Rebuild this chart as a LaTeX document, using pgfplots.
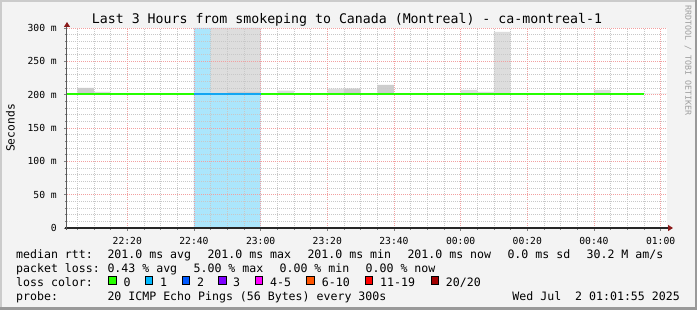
\documentclass[border=0pt]{standalone}
\usepackage{pgfplots}
\pgfplotsset{compat=1.18}
\usepackage{fontspec}
\setmainfont{DejaVu Sans Mono}
\usetikzlibrary{arrows.meta}

\definecolor{canvas}{HTML}{F3F3F3}
\definecolor{shadea}{HTML}{CBCBCB}
\definecolor{shadeb}{HTML}{999999}
\definecolor{mgridc}{HTML}{F2A0A0}
\definecolor{gridc}{HTML}{C8C8C8}
\definecolor{arrowred}{HTML}{8B1A1A}
\definecolor{smokelight}{HTML}{DDDDDD}
\definecolor{smokemid}{HTML}{CDCDCD}
\definecolor{lossbg}{HTML}{ABE6FC}
\definecolor{lossa}{HTML}{26FF00}
\definecolor{lossb}{HTML}{00B8FF}
\definecolor{lossc}{HTML}{0059FF}
\definecolor{lossd}{HTML}{7E00FF}
\definecolor{losse}{HTML}{FF00FF}
\definecolor{lossf}{HTML}{FF5500}
\definecolor{lossg}{HTML}{FF0000}
\definecolor{lossh}{HTML}{A10000}
\definecolor{medblue}{HTML}{12A6F2}

\newcommand\lgd{\fontsize{11.58}{13}\selectfont}
\newcommand\tck{\fontsize{9.7}{10}\selectfont}

\pgfplotsset{frame/.style={
  at={(67pt,82pt)}, anchor=south west,
  scale only axis, width=600pt, height=200pt,
  xmin=1.917, xmax=181.917, ymin=0, ymax=300}}

\begin{document}
\begin{tikzpicture}
\fill[canvas] (0,0) rectangle (697pt,310pt);
\fill[shadea] (0,0) rectangle (2pt,310pt);
\fill[shadea] (0,308pt) rectangle (697pt,310pt);
\fill[shadeb] (0,0) rectangle (697pt,3pt);
\fill[shadeb] (695pt,0) rectangle (697pt,310pt);

\begin{axis}[
  frame, axis on top,
  axis background/.style={fill=white},
  axis x line=bottom, axis y line=left,
  x axis line style={black!85, line width=1.1pt, shorten <=-2pt, shorten >=-6pt,
    -{Triangle[width=6pt,length=5pt,color=arrowred]}},
  y axis line style={black!65, line width=1pt, shorten <=-2pt, shorten >=-6pt,
    -{Triangle[width=6pt,length=5pt,color=arrowred]}},
  xtick={20,40,...,180},
  xticklabels={22:20,22:40,23:00,23:20,23:40,00:00,00:20,00:40,01:00},
  minor xtick={5,10,...,180},
  ytick={0,50,...,300},
  yticklabels={0,50 m,100 m,150 m,200 m,250 m,300 m},
  minor ytick={10,20,...,290},
  grid=both,
  major grid style={mgridc, line width=0.8pt, dash pattern=on 1pt off 1pt},
  minor grid style={gridc, line width=0.8pt, dash pattern=on 1pt off 1pt},
  tick align=outside,
  major tick length=3pt, minor tick length=2pt,
  tick style={black!50, line width=0.8pt},
  xticklabel style={font=\tck, anchor=base, inner sep=0pt, yshift=-13.7pt},
  yticklabel style={font=\tck, anchor=east, inner sep=0pt, xshift=-7pt},
]
% loss background (1 of 20 lost)
\addplot[const plot, fill=lossbg, draw=none] coordinates {(40,300) (60,300)} \closedcycle;
% smoke, outer layer
\addplot[const plot, fill=smokelight, draw=none] coordinates {
  (1.917,201) (10,204) (15,201) (45,300) (60,201) (65,206) (70,201)
  (80,209) (90,201) (120,207) (125,204) (130,294) (135,201)
  (160,207) (165,201) (181.917,201)};
% smoke, inner layer
\addplot[const plot, fill=smokemid, draw=none] coordinates {
  (1.917,201) (5,210) (10,201) (50,204) (60,201) (85,209) (90,201)
  (95,214.5) (100,201) (181.917,201)};
\end{axis}

% median rtt by loss, drawn above the grid
\begin{axis}[frame, hide axis]
\addplot[lossa, line width=2pt] coordinates {(1.917,201) (40,201)};
\addplot[medblue, line width=2pt] coordinates {(40,201) (60,201)};
\addplot[lossa, line width=2pt] coordinates {(60,201) (175,201)};
\end{axis}

\node[anchor=base, inner sep=0pt, font=\fontsize{13.24}{15}\selectfont]
  at (347pt,286pt) {Last 3 Hours from smokeping to Canada (Montreal) - ca-montreal-1};
\node[rotate=90, inner sep=0pt, font=\fontsize{11.3}{12}\selectfont] at (10.5pt,182pt) {Seconds};
\node[rotate=-90, anchor=west, inner sep=0pt, text=black!38, font=\fontsize{8.3}{9}\selectfont]
  at (688pt,305pt) {RRDTOOL / TOBI OETIKER};

\begin{scope}[every node/.style={anchor=base west, inner sep=0pt, font=\lgd}]
\node at (16pt,51.7pt) {median rtt:};
\node at (107.3pt,51.7pt) {201.0 ms avg};
\node at (207.3pt,51.7pt) {201.0 ms max};
\node at (307.3pt,51.7pt) {201.0 ms min};
\node at (407.3pt,51.7pt) {201.0 ms now};
\node at (507.3pt,51.7pt) {0.0 ms sd};
\node at (586.4pt,51.7pt) {30.2 M am/s};

\node at (16pt,37.5pt) {packet loss:};
\node at (107.3pt,37.5pt) {0.43 \% avg};
\node at (193.4pt,37.5pt) {5.00 \% max};
\node at (279.4pt,37.5pt) {0.00 \% min};
\node at (365.5pt,37.5pt) {0.00 \% now};

\node at (16pt,23.7pt) {loss color:};
\node at (123.3pt,23.7pt) {0};
\node at (160pt,23.7pt) {1};
\node at (197pt,23.7pt) {2};
\node at (233pt,23.7pt) {3};
\node at (270pt,23.7pt) {4-5};
\node at (321.7pt,23.7pt) {6-10};
\node at (380pt,23.7pt) {11-19};
\node at (445.7pt,23.7pt) {20/20};

\node at (16pt,9.3pt) {probe:};
\node at (107.3pt,9.3pt) {20 ICMP Echo Pings (56 Bytes) every 300s};
\node[anchor=base east] at (680pt,9.3pt) {Wed Jul~~2 01:01:55 2025};
\end{scope}

\begin{scope}[line width=0.8pt, draw=black]
\filldraw[fill=lossa] (108.3pt,25.8pt) rectangle ++(7.6pt,7.6pt);
\filldraw[fill=lossb] (145pt,25.8pt) rectangle ++(7.6pt,7.6pt);
\filldraw[fill=lossc] (182pt,25.8pt) rectangle ++(7.6pt,7.6pt);
\filldraw[fill=lossd] (218.7pt,25.8pt) rectangle ++(7.6pt,7.6pt);
\filldraw[fill=losse] (255pt,25.8pt) rectangle ++(7.6pt,7.6pt);
\filldraw[fill=lossf] (306.7pt,25.8pt) rectangle ++(7.6pt,7.6pt);
\filldraw[fill=lossg] (365pt,25.8pt) rectangle ++(7.6pt,7.6pt);
\filldraw[fill=lossh] (431pt,25.8pt) rectangle ++(7.6pt,7.6pt);
\end{scope}
\pgfresetboundingbox
\path (0,0) rectangle (697pt,310pt);
\end{tikzpicture}
\end{document}
